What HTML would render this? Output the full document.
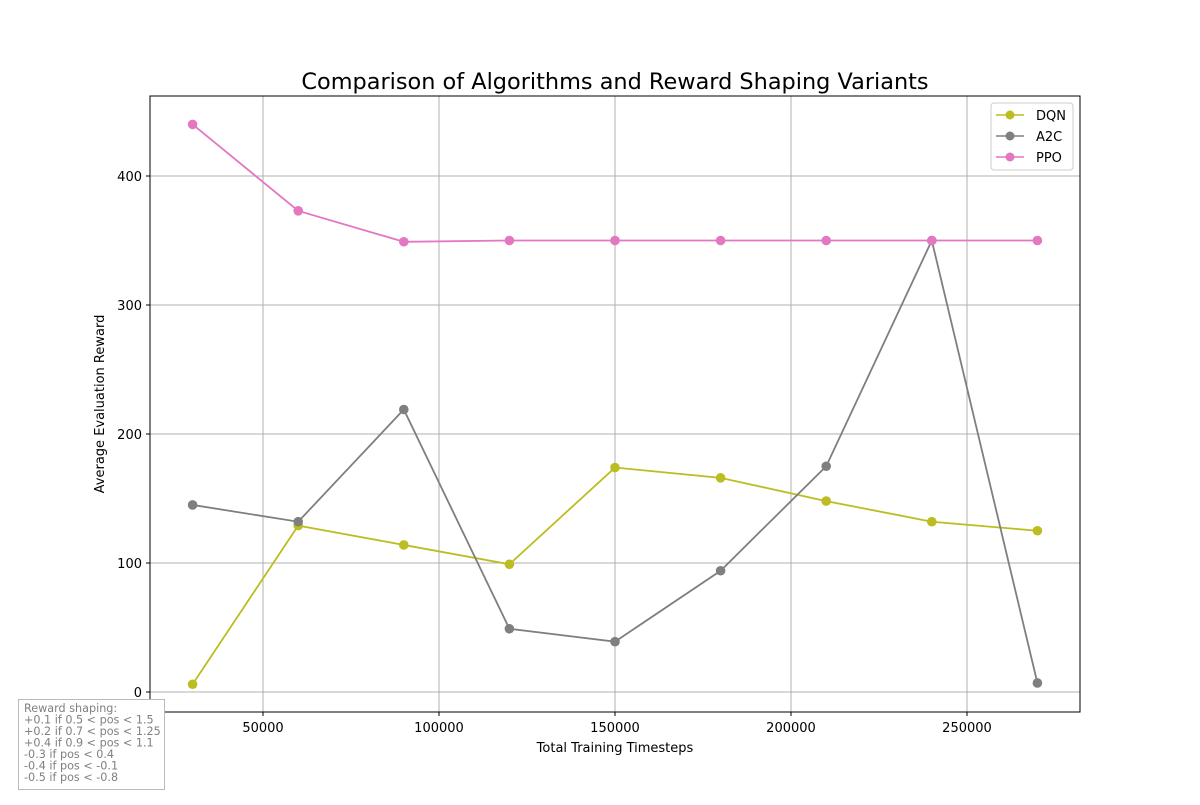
<!DOCTYPE html>
<html><head><meta charset="utf-8"><style>
body{margin:0;background:#fff;}
svg text{font-family:"DejaVu Sans","Liberation Sans",sans-serif;}
</style></head><body>
<svg width="1200" height="800" xmlns="http://www.w3.org/2000/svg">
<rect width="1200" height="800" fill="#fff"/>
<text x="615" y="89" font-size="22.4" text-anchor="middle">Comparison of Algorithms and Reward Shaping Variants</text>
<g id="grid"></g>
<g id="series"></g>
<rect x="150" y="96" width="930" height="616" fill="none" stroke="#000" stroke-width="1"/>
<text x="615" y="752" font-size="13" text-anchor="middle">Total Training Timesteps</text>
<text transform="translate(104,404) rotate(-90)" font-size="13" text-anchor="middle">Average Evaluation Reward</text>
<g>
<rect x="991" y="103" width="82" height="67" fill="#fff" stroke="#ccc" rx="3"/>
<line x1="996" y1="115" x2="1024" y2="115" stroke="#bcbd22" stroke-width="1.5"/><circle cx="1010" cy="115" r="4.5" fill="#bcbd22"/>
<text x="1036" y="120" font-size="13">DQN</text>
<line x1="996" y1="136" x2="1024" y2="136" stroke="#7f7f7f" stroke-width="1.5"/><circle cx="1010" cy="136" r="4.5" fill="#7f7f7f"/>
<text x="1036" y="141" font-size="13">A2C</text>
<line x1="996" y1="157" x2="1024" y2="157" stroke="#e377c2" stroke-width="1.5"/><circle cx="1010" cy="157" r="4.5" fill="#e377c2"/>
<text x="1036" y="162" font-size="13">PPO</text>
</g>
<g font-size="11.2" fill="#808080">
<rect x="18.5" y="699.5" width="146" height="90" fill="#fff" stroke="#bbb"/>
<text x="24" y="712">Reward shaping:</text>
<text x="24" y="723.5">+0.1 if 0.5 &lt; pos &lt; 1.5</text>
<text x="24" y="735">+0.2 if 0.7 &lt; pos &lt; 1.25</text>
<text x="24" y="746.5">+0.4 if 0.9 &lt; pos &lt; 1.1</text>
<text x="24" y="758">-0.3 if pos &lt; 0.4</text>
<text x="24" y="769.5">-0.4 if pos &lt; -0.1</text>
<text x="24" y="781">-0.5 if pos &lt; -0.8</text>
</g>
</svg>
<script>
const timesteps=[30000,60000,90000,120000,150000,180000,210000,240000,270000];
const dqn=[6,129,114,99,174,166,148,132,125];
const a2c=[145,132,219,49,39,94,175,350,7];
const ppo=[440,373,349,350,350,350,350,350,350];
const xTicks=[50000,100000,150000,200000,250000];
const yTicks=[0,100,200,300,400];
const NS='http://www.w3.org/2000/svg';
const xs=v=>263+(v-50000)*176/50000;
const ys=v=>692-v*1.29;
const grid=document.getElementById('grid');
function mk(t,a,p){const e=document.createElementNS(NS,t);for(const k in a)e.setAttribute(k,a[k]);p.appendChild(e);return e;}
xTicks.forEach(t=>{
 const l=mk('line',{x1:xs(t),x2:xs(t),y1:96,y2:712,stroke:'#b0b0b0','stroke-width':1},grid);
 
 
 mk('line',{x1:xs(t),x2:xs(t),y1:712,y2:716,stroke:'#000'},grid);
 const tx=mk('text',{x:xs(t),y:732,'font-size':13,'text-anchor':'middle'},grid);tx.textContent=t;
 
 
});
yTicks.forEach(t=>{
 const l=mk('line',{x1:150,x2:1080,y1:ys(t),y2:ys(t),stroke:'#b0b0b0','stroke-width':1},grid);
 
 
 mk('line',{x1:146,x2:150,y1:ys(t),y2:ys(t),stroke:'#000'},grid);
 const tx=mk('text',{x:142,y:ys(t)+5,'font-size':13,'text-anchor':'end'},grid);tx.textContent=t;
 
 
});
const sg=document.getElementById('series');
[[dqn,'#bcbd22','dqn'],[a2c,'#7f7f7f','a2c'],[ppo,'#e377c2','ppo']].forEach(([d,c,n])=>{
 const p=mk('polyline',{points:d.map((v,i)=>xs(timesteps[i])+','+ys(v)).join(' '),fill:'none',stroke:c,'stroke-width':1.8},sg);
 
 
 d.forEach((v,i)=>{const ci=mk('circle',{cx:xs(timesteps[i]),cy:ys(v),r:4.8,fill:c},sg);
  
  });
});
</script>
</body></html>
